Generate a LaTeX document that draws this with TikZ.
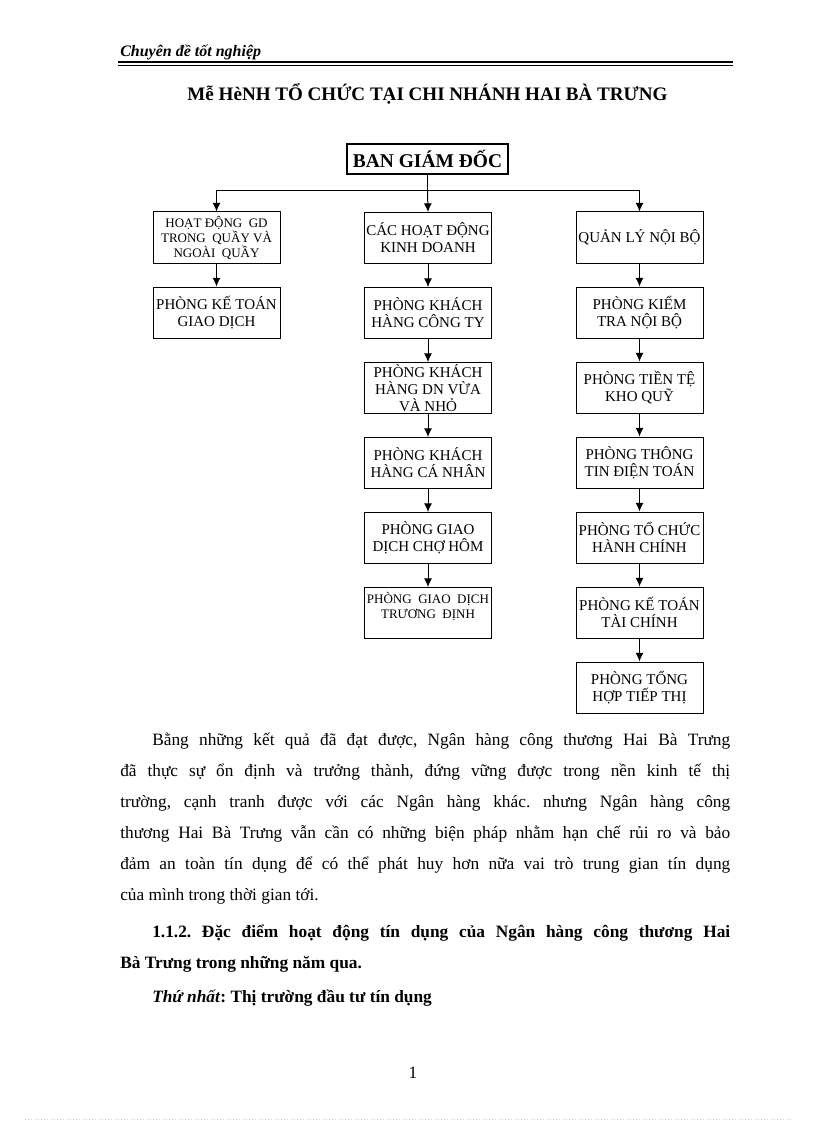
\documentclass[tikz,border=0pt]{standalone}
\usepackage{fontspec}
\setmainfont{Liberation Serif}
\usetikzlibrary{arrows.meta,positioning,calc}
\frenchspacing

\begin{document}
\begin{tikzpicture}[x=0.75pt, y=-0.75pt, node distance=17.25pt,
    unit/.style={draw, line width=0.75pt, minimum width=95.25pt, minimum height=38.25pt, inner xsep=1pt, inner ysep=0pt, align=center, font=\fontsize{11.25}{12.75}\selectfont},
    unitsmall/.style={unit, font=\fontsize{9.75}{11.25}\selectfont},
    board/.style={draw, line width=1.5pt, minimum width=120.75pt, minimum height=22.5pt, inner sep=0pt, font=\fontsize{14.6}{16}\selectfont\bfseries},
    arr/.style={line width=0.75pt, -{Latex[length=6.5pt, width=6pt]}},
    bodytext/.style={anchor=base west, inner sep=0pt, text width=457.5pt, align=justify, font=\fontsize{13}{23.25}\selectfont}]
    \useasboundingbox (0,0) rectangle (816,1123);

    \node (hdr) [anchor=base west, inner sep=0pt, font=\fontsize{12}{14}\selectfont\bfseries\itshape] at (120,57) {Chuyên đề tốt nghiệp};
    \draw [line width=1.5pt] (118,62.5) -- (733,62.5);
    \draw [line width=0.6pt] (118,65.5) -- (733,65.5);
    \node (title) [anchor=base, font=\fontsize{14.3}{16}\selectfont\bfseries] at (427.5,101) {Mễ HèNH TỔ CHỨC TẠI CHI NHÁNH HAI BÀ TRƯNG};

    \node (bgd) [board] at (427.5,159) {BAN GIÁM ĐỐC};
    \coordinate (bus) at ($(bgd.south)+(0,16)$);

    \node (hd1) [unitsmall] at (216.5,237.5) {HOẠT ĐỘNG\ \ GD\\TRONG\ \ QUẦY VÀ\\NGOÀI\ \ QUẦY};
    \node (hd2) [unit, below=of hd1] {PHÒNG KẾ TOÁN\\GIAO DỊCH};

    \node (kd1) [unit] at (428,238) {CÁC HOẠT ĐỘNG\\KINH DOANH};
    \node (kd2) [unit, below=of kd1] {PHÒNG KHÁCH\\HÀNG CÔNG TY};
    \node (kd3) [unit, below=of kd2] {PHÒNG KHÁCH\\HÀNG DN VỪA\\VÀ NHỎ};
    \node (kd4) [unit, below=of kd3] {PHÒNG KHÁCH\\HÀNG CÁ NHÂN};
    \node (kd5) [unit, below=of kd4] {PHÒNG GIAO\\DỊCH CHỢ HÔM};
    \node (kd6) [unitsmall, below=of kd5] {PHÒNG\ \ GIAO\ \ DỊCH\\TRƯƠNG\ \ ĐỊNH\\\mbox{}};

    \node (ql1) [unit] at (639.5,237.5) {QUẢN LÝ NỘI BỘ};
    \node (ql2) [unit, below=of ql1] {PHÒNG KIỂM\\TRA NỘI BỘ};
    \node (ql3) [unit, below=of ql2] {PHÒNG TIỀN TỆ\\KHO QUỸ};
    \node (ql4) [unit, below=of ql3] {PHÒNG THÔNG\\TIN ĐIỆN TOÁN};
    \node (ql5) [unit, below=of ql4] {PHÒNG TỔ CHỨC\\HÀNH CHÍNH};
    \node (ql6) [unit, below=of ql5] {PHÒNG KẾ TOÁN\\TÀI CHÍNH};
    \node (ql7) [unit, below=of ql6] {PHÒNG TỔNG\\HỢP TIẾP THỊ};

    \draw [line width=0.75pt] (bgd.south) -- (bus);
    \draw [arr] (bus) -| (hd1.north);
    \draw [arr] (bus) -- (kd1.north);
    \draw [arr] (bus) -| (ql1.north);

    \draw [arr] (hd1) -- (hd2);
    \draw [arr] (kd1) -- (kd2);
    \draw [arr] (kd2) -- (kd3);
    \draw [arr] (kd3) -- (kd4);
    \draw [arr] (kd4) -- (kd5);
    \draw [arr] (kd5) -- (kd6);
    \draw [arr] (ql1) -- (ql2);
    \draw [arr] (ql2) -- (ql3);
    \draw [arr] (ql3) -- (ql4);
    \draw [arr] (ql4) -- (ql5);
    \draw [arr] (ql5) -- (ql6);
    \draw [arr] (ql6) -- (ql7);

    \node (p1) [bodytext] at (120,745) {\hspace*{24pt}Bằng những kết quả đã đạt được, Ngân hàng công thương Hai Bà Trưng\linebreak
        đã thực sự ổn định và trưởng thành, đứng vững được trong nền kinh tế thị\linebreak
        trường, cạnh tranh được với các Ngân hàng khác. nhưng Ngân hàng công\linebreak
        thương Hai Bà Trưng vẫn cần có những biện pháp nhằm hạn chế rủi ro và bảo\linebreak
        đảm an toàn tín dụng để có thể phát huy hơn nữa vai trò trung gian tín dụng\linebreak
        của mình trong thời gian tới.};
    \node (p2) [bodytext, font=\fontsize{13}{23.25}\selectfont\bfseries] at (120,937) {\hspace*{24pt}1.1.2. Đặc điểm hoạt động tín dụng của Ngân hàng công thương Hai\linebreak
        Bà Trưng trong những năm qua.};
    \node (p3) [bodytext, font=\fontsize{13}{23.25}\selectfont\bfseries] at (120,1002) {\hspace*{24pt}\textit{Thứ nhất}: Thị trường đầu tư tín dụng};
    \node (pgno) [anchor=base, font=\fontsize{13}{15}\selectfont] at (413,1078) {1};

    \draw [gray!40, dotted] (25,1119) -- (792,1119);
\end{tikzpicture}
\end{document}
